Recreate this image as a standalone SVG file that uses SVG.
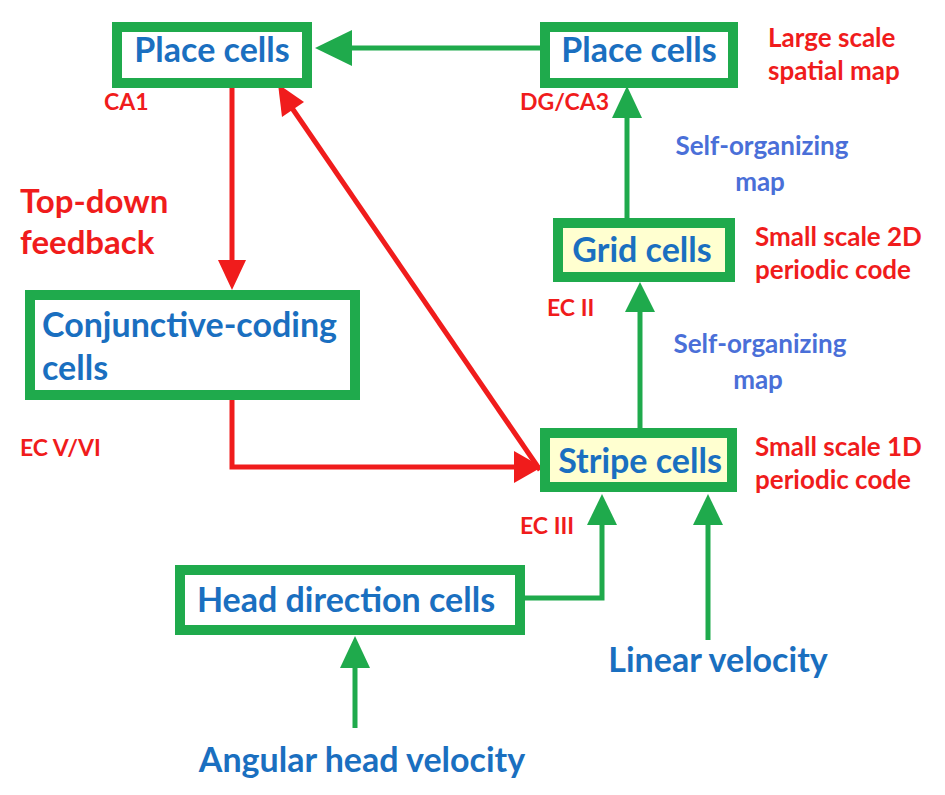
<svg xmlns="http://www.w3.org/2000/svg" width="945" height="795" viewBox="0 0 945 795">
<style>
.box{fill:#fff;stroke:#1faa4c;stroke-width:10}
.y{fill:#ffffd0}
.n{font-family:Lato,"Liberation Sans",sans-serif;font-weight:bold;fill:#1a6fc0;font-size:34px}
.r{font-family:Lato,"Liberation Sans",sans-serif;font-weight:bold;fill:#f01c1c;font-size:26px}
.e{font-size:23px}
.s{font-family:Lato,"Liberation Sans",sans-serif;font-weight:bold;fill:#4a6fd8;font-size:26px}
.g{stroke:#1faa4c;stroke-width:5;fill:none}
.rd{stroke:#f01c1c;stroke-width:5;fill:none}
.gh{fill:#1faa4c}.rh{fill:#f01c1c}
</style>
<rect width="945" height="795" fill="#fff"/>
<g id="connectors">
<line class="g" x1="540" y1="48" x2="350" y2="48"/><polygon class="gh" points="315,48 352,30 352,66"/>
<line class="g" x1="627" y1="218" x2="627" y2="115"/><polygon class="gh" points="627,86 612,118 642,118"/>
<line class="g" x1="640" y1="428" x2="640" y2="308"/><polygon class="gh" points="640,282 625,312 655,312"/>
<line class="rd" x1="232" y1="88" x2="232" y2="262"/><polygon class="rh" points="232,290 218,260 246,260"/>
<line class="rd" x1="540" y1="470" x2="292" y2="108"/><polygon class="rh" points="278,84 282,117 304,102"/>
<polyline class="rd" points="232,400 232,467 515,467"/><polygon class="rh" points="542,467 514,451 514,483"/>
<polyline class="g" points="525,598 602,598 602,522"/><polygon class="gh" points="602,494 587,525 617,525"/>
<line class="g" x1="708" y1="640" x2="708" y2="522"/><polygon class="gh" points="708,494 693,525 723,525"/>
<line class="g" x1="355" y1="728" x2="355" y2="665"/><polygon class="gh" points="355,636 340,668 370,668"/>
</g>
<g id="place-ca1"><rect class="box" x="117" y="27" width="190" height="56"/><text class="n" x="212" y="62" text-anchor="middle">Place cells</text><text class="r e" x="104" y="110">CA1</text></g>
<g id="place-ca3"><rect class="box" x="545" y="27" width="188" height="56"/><text class="n" x="639" y="62" text-anchor="middle">Place cells</text><text class="r e" x="520" y="110">DG/CA3</text></g>
<g id="grid"><rect class="box y" x="558" y="223" width="172" height="54"/><text class="n" x="642" y="262" text-anchor="middle">Grid cells</text><text class="r e" x="547" y="316">EC II</text></g>
<g id="conj"><rect class="box" x="30" y="295" width="325" height="100"/><text class="n" x="42" y="337">Conjunctive-coding</text><text class="n" x="42" y="380">cells</text><text class="r e" x="20" y="456">EC V/VI</text></g>
<g id="stripe"><rect class="box y" x="545" y="433" width="187" height="54"/><text class="n" x="640" y="473" text-anchor="middle">Stripe cells</text><text class="r e" x="520" y="534">EC III</text></g>
<g id="hd"><rect class="box" x="180" y="570" width="340" height="60"/><text class="n" x="346" y="612" text-anchor="middle">Head direction cells</text></g>
<g id="labels">
<text class="r" x="768" y="47">Large scale</text><text class="r" x="768" y="80">spatial map</text>
<text class="s" x="762" y="155" text-anchor="middle">Self-organizing</text><text class="s" x="760" y="191" text-anchor="middle">map</text>
<text class="s" x="760" y="353" text-anchor="middle">Self-organizing</text><text class="s" x="758" y="389" text-anchor="middle">map</text>
<text class="r" x="755" y="246">Small scale 2D</text><text class="r" x="755" y="279">periodic code</text>
<text class="r" x="755" y="456">Small scale 1D</text><text class="r" x="755" y="489">periodic code</text>
<text class="r" x="20" y="213" style="font-size:33px">Top-down</text><text class="r" x="20" y="254" style="font-size:33px">feedback</text>
<text class="n" x="718" y="672" text-anchor="middle">Linear velocity</text>
<text class="n" x="362" y="772" text-anchor="middle">Angular head velocity</text>
</g>
</svg>
